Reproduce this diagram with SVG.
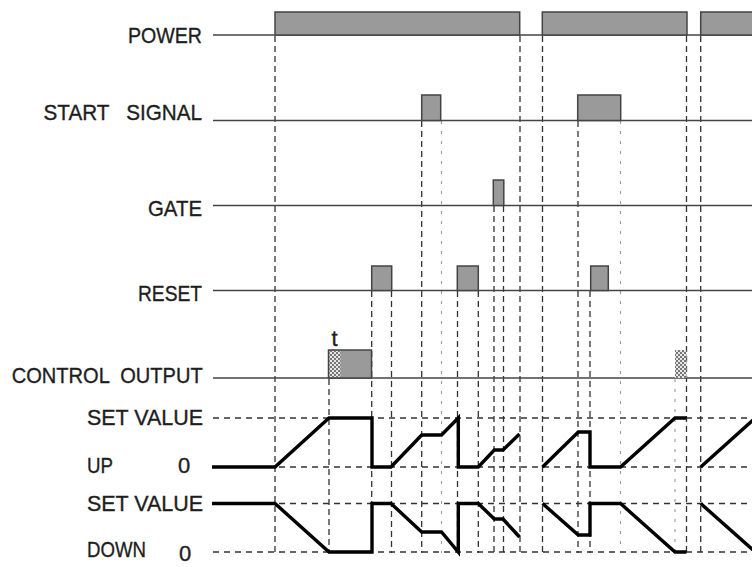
<svg xmlns="http://www.w3.org/2000/svg" width="752" height="567" viewBox="0 0 752 567">
<defs>
<style>
.lbl{font-family:"Liberation Sans",Arial,sans-serif;font-size:22px;fill:#1e1e1e;stroke:#1e1e1e;stroke-width:0.35;}
.sig{stroke:#444;stroke-width:1.6;fill:none;}
.blk{fill:#9a9a9a;stroke:#444;stroke-width:1.5;}
.hat{fill:url(#chk);stroke:none;}
.grid{stroke:#333;stroke-width:1.3;stroke-dasharray:6 5;fill:none;}
.vd{stroke:#333;stroke-width:1.3;stroke-dasharray:6 4;fill:none;}
.vl{stroke:#999;stroke-width:1.1;stroke-dasharray:3 7;fill:none;}
.crv{stroke:#000;stroke-width:3.4;fill:none;stroke-linejoin:miter;}
</style>
<pattern id="chk" width="4" height="4" patternUnits="userSpaceOnUse">
<rect width="4" height="4" fill="#e6e6e6"/>
<rect width="2" height="2" fill="#777"/>
<rect x="2" y="2" width="2" height="2" fill="#777"/>
</pattern>
</defs>
<rect width="752" height="567" fill="#fff"/>

<g id="connectors">
<line class="vd" x1="275" y1="36" x2="275" y2="553"/>
<line class="vd" x1="520" y1="36" x2="520" y2="553"/>
<line class="vd" x1="542.5" y1="36" x2="542.5" y2="553"/>
<line class="vd" x1="686.5" y1="36" x2="686.5" y2="553"/>
<line class="vd" x1="700.7" y1="36" x2="700.7" y2="553"/>
<line class="vd" x1="421.7" y1="121" x2="421.7" y2="553"/>
<line class="vd" x1="578" y1="121" x2="578" y2="553"/>
<line class="vl" x1="441.5" y1="121" x2="441.5" y2="553"/>
<line class="vl" x1="620.5" y1="121" x2="620.5" y2="553"/>
<line class="vd" x1="494" y1="206" x2="494" y2="553"/>
<line class="vd" x1="503.5" y1="206" x2="503.5" y2="553"/>
<line class="vd" x1="371.7" y1="291" x2="371.7" y2="553"/>
<line class="vd" x1="391.5" y1="291" x2="391.5" y2="553"/>
<line class="vd" x1="457.5" y1="291" x2="457.5" y2="553"/>
<line class="vd" x1="478.3" y1="291" x2="478.3" y2="553"/>
<line class="vd" x1="590" y1="291" x2="590" y2="553"/>
<line class="vd" x1="329" y1="379" x2="329" y2="553"/>
<line class="vl" x1="675" y1="379" x2="675" y2="553"/>
</g>

<g id="power">
<text class="lbl" x="202" y="43" text-anchor="end" textLength="74" lengthAdjust="spacingAndGlyphs">POWER</text>
<line class="sig" x1="213" y1="35" x2="752" y2="35"/>
<rect class="blk" x="275" y="12" width="244.7" height="23"/>
<rect class="blk" x="542.3" y="12" width="144.7" height="23"/>
<rect class="blk" x="700.7" y="12" width="55" height="23"/>
</g>

<g id="start-signal">
<text class="lbl" x="43.5" y="120" textLength="158.5" lengthAdjust="spacingAndGlyphs" xml:space="preserve">START   SIGNAL</text>
<line class="sig" x1="213" y1="120.5" x2="752" y2="120.5"/>
<rect class="blk" x="421.7" y="95" width="19" height="25.5"/>
<rect class="blk" x="577.7" y="95" width="43" height="25.5"/>
</g>

<g id="gate">
<text class="lbl" x="202" y="216" text-anchor="end" textLength="54" lengthAdjust="spacingAndGlyphs">GATE</text>
<line class="sig" x1="213" y1="205.5" x2="752" y2="205.5"/>
<rect class="blk" x="493.3" y="180" width="10.5" height="25.5"/>
</g>

<g id="reset">
<text class="lbl" x="202" y="301" text-anchor="end" textLength="64" lengthAdjust="spacingAndGlyphs">RESET</text>
<line class="sig" x1="213" y1="290.5" x2="752" y2="290.5"/>
<rect class="blk" x="371.7" y="266" width="20" height="24.5"/>
<rect class="blk" x="457.3" y="266" width="21" height="24.5"/>
<rect class="blk" x="590.7" y="266" width="17.6" height="24.5"/>
</g>

<g id="control-output">
<text class="lbl" x="11.7" y="383" textLength="191" lengthAdjust="spacingAndGlyphs" xml:space="preserve">CONTROL  OUTPUT</text>
<line class="sig" x1="213" y1="378" x2="752" y2="378"/>
<rect class="blk" x="328.5" y="350" width="43" height="28"/>
<rect class="hat" x="329.5" y="351" width="11" height="26"/>
<text class="lbl" x="331.5" y="346" font-size="24">t</text>
<rect class="hat" x="675" y="350" width="11.5" height="28"/>
</g>

<g id="set-value-up">
<text class="lbl" x="203" y="425" text-anchor="end" textLength="116" lengthAdjust="spacingAndGlyphs">SET VALUE</text>
<line class="grid" x1="213" y1="418" x2="752" y2="418"/>
</g>

<g id="up-zero">
<text class="lbl" x="87" y="473" textLength="26" lengthAdjust="spacingAndGlyphs">UP</text>
<text class="lbl" x="178" y="473">0</text>
<line class="grid" x1="213" y1="467" x2="752" y2="467"/>
</g>

<g id="set-value-down">
<text class="lbl" x="203" y="511" text-anchor="end" textLength="116" lengthAdjust="spacingAndGlyphs">SET VALUE</text>
<line class="grid" x1="213" y1="503.5" x2="752" y2="503.5"/>
</g>

<g id="down-zero">
<text class="lbl" x="87" y="557" textLength="59" lengthAdjust="spacingAndGlyphs">DOWN</text>
<text class="lbl" x="179" y="561">0</text>
<line class="grid" x1="213" y1="552" x2="752" y2="552"/>
</g>

<g id="up-curve">
<path class="crv" d="M212,467 L275,467 L329,418 L372,418 L372,467 L391,467 L421.7,435 L441.5,435 L458.3,418 L458.3,467 L478.3,467 L494.3,450 L503,450 L519.5,434"/>
<path class="crv" d="M542.5,467 L578.3,432 L590,432 L590,467 L620.5,467 L675,418 L686.5,418"/>
<path class="crv" d="M700.7,467 L753,420"/>
</g>

<g id="down-curve">
<path class="crv" d="M212,503.5 L275,503.5 L329,552 L372,552 L372,503.5 L391,503.5 L421.7,532 L441.5,532 L458.3,552 L458.3,503.5 L478.3,503.5 L494.3,519 L503,519 L519.5,537"/>
<path class="crv" d="M542.5,503.5 L578.3,535 L590,535 L590,503.5 L620.5,503.5 L675,552 L686.5,552"/>
<path class="crv" d="M700.7,503.5 L753,550"/>
</g>
</svg>
